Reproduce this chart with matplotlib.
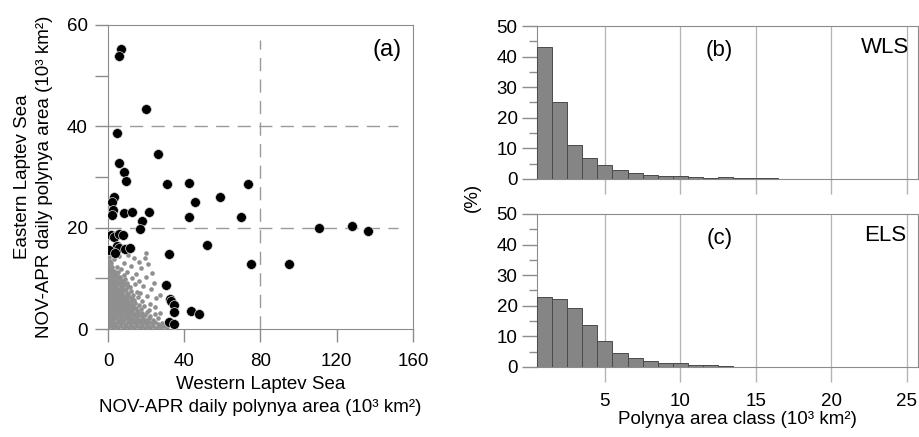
import numpy as np
import matplotlib
matplotlib.use("Agg")
import matplotlib.pyplot as plt
from matplotlib.ticker import MultipleLocator

plt.rcParams["font.family"] = ["Liberation Sans", "DejaVu Sans"]

# daily polynya area pairs (WLS, ELS), 10^3 km^2 -- large events
big_x = [6.8, 5.6, 20.1, 4.7, 26.2, 5.6, 8.6, 9.6, 30.9, 42.4, 73.6, 45.9, 58.6,
         3.0, 2.1, 2.4, 2.1, 8.6, 12.4, 21.6, 42.4, 70.0, 17.8, 16.8, 110.5,
         128.1, 136.3, 1.7, 3.0, 5.6, 7.7, 4.5, 5.9, 9.1, 11.5, 0.3, 3.5, 52.0,
         32.1, 75.2, 94.9, 30.5, 32.6, 33.1, 34.6, 34.6, 43.6, 47.8, 31.8, 34.6]
big_y = [55.2, 53.9, 43.4, 38.6, 34.6, 32.7, 31.0, 29.2, 28.6, 28.9, 28.6, 25.1,
         26.0, 26.1, 25.0, 23.5, 22.5, 22.8, 23.1, 23.0, 22.2, 22.1, 21.4, 19.8,
         20.0, 20.4, 19.4, 18.5, 18.1, 18.7, 18.5, 16.3, 16.0, 15.8, 15.9, 15.5,
         15.1, 16.5, 14.9, 12.9, 12.8, 8.7, 6.0, 5.5, 4.7, 3.4, 3.5, 3.0, 1.3, 1.0]

# remaining days (small polynya areas)
small_pts = [
    (0.2, 0.3), (1.4, 0.5), (2.7, 0.2), (4.1, 0.6), (5.5, 0.3), (6.8, 0.5), (8.2, 0.2),
    (9.6, 0.6), (11.0, 0.3), (12.4, 0.5), (13.8, 0.2), (15.2, 0.6), (16.6, 0.3),
    (18.0, 0.5), (19.4, 0.2), (20.8, 0.6), (22.2, 0.3), (23.6, 0.5), (25.0, 0.2),
    (26.5, 0.6), (28.0, 0.3), (29.6, 0.5), (31.2, 0.4),
    (0.6, 1.1), (2.0, 1.3), (3.4, 1.0), (4.8, 1.4), (6.1, 1.1), (7.5, 1.3), (8.9, 1.0),
    (10.3, 1.4), (11.7, 1.1), (13.1, 1.3), (14.5, 1.0), (15.9, 1.4), (17.3, 1.1),
    (18.7, 1.3), (20.1, 1.0), (21.5, 1.4), (23.0, 1.1), (24.6, 1.3), (26.3, 1.0),
    (28.4, 1.2),
    (0.1, 1.8), (1.4, 2.0), (2.8, 1.7), (4.2, 2.1), (5.6, 1.8), (7.0, 2.0), (8.4, 1.7),
    (9.8, 2.1), (11.2, 1.8), (12.6, 2.0), (14.0, 1.7), (15.4, 2.1), (16.8, 1.8),
    (18.2, 2.0), (19.8, 1.7), (21.6, 2.1), (23.5, 1.8), (26.0, 2.2),
    (0.5, 2.5), (1.9, 2.7), (3.3, 2.4), (4.7, 2.8), (6.1, 2.5), (7.5, 2.7), (8.9, 2.4),
    (10.3, 2.8), (11.7, 2.5), (13.1, 2.7), (14.5, 2.4), (16.0, 2.8), (17.6, 2.5),
    (19.5, 2.7), (22.0, 2.6), (24.8, 2.9),
    (0.1, 3.1), (1.4, 3.3), (2.8, 3.0), (4.2, 3.4), (5.6, 3.1), (7.0, 3.3), (8.4, 3.0),
    (9.8, 3.4), (11.2, 3.1), (12.6, 3.3), (14.1, 3.0), (15.8, 3.4), (17.8, 3.1),
    (20.3, 3.3), (27.5, 3.2),
    (0.6, 3.7), (2.0, 3.9), (3.4, 3.6), (4.8, 4.0), (6.2, 3.7), (7.6, 3.9), (9.0, 3.6),
    (10.4, 4.0), (11.8, 3.7), (13.3, 3.9), (15.0, 3.6), (17.2, 4.0), (21.5, 3.8),
    (0.1, 4.3), (1.5, 4.5), (2.9, 4.2), (4.3, 4.6), (5.7, 4.3), (7.1, 4.5), (8.5, 4.2),
    (9.9, 4.6), (11.4, 4.3), (13.0, 4.5), (14.8, 4.2), (19.0, 4.6), (24.5, 4.4),
    (0.6, 4.9), (2.0, 5.1), (3.4, 4.8), (4.8, 5.2), (6.2, 4.9), (7.6, 5.1), (9.0, 4.8),
    (10.5, 5.2), (12.1, 4.9), (14.0, 5.1), (16.5, 4.8), (22.0, 5.0),
    (0.1, 5.5), (1.5, 5.7), (2.9, 5.4), (4.3, 5.8), (5.7, 5.5), (7.1, 5.7), (8.6, 5.4),
    (10.1, 5.8), (11.8, 5.5), (13.8, 5.7), (18.0, 5.6), (25.0, 6.2),
    (0.6, 6.1), (2.0, 6.3), (3.4, 6.0), (4.8, 6.4), (6.2, 6.1), (7.7, 6.3), (9.2, 6.0),
    (10.8, 6.4), (12.8, 6.1), (15.5, 6.3), (20.5, 6.5), (27.4, 6.8),
    (0.1, 6.7), (1.5, 6.9), (2.9, 6.6), (4.3, 7.0), (5.8, 6.7), (7.3, 6.9), (8.8, 6.6),
    (10.5, 7.0), (13.0, 6.8), (17.0, 7.1),
    (0.6, 7.3), (2.0, 7.5), (3.4, 7.2), (4.9, 7.6), (6.4, 7.3), (8.0, 7.5), (9.8, 7.2),
    (12.0, 7.6), (15.0, 7.4), (22.5, 7.8),
    (0.1, 7.9), (1.5, 8.1), (2.9, 7.8), (4.4, 8.2), (5.9, 7.9), (7.5, 8.1), (9.3, 7.8),
    (11.5, 8.2), (18.5, 8.4),
    (0.6, 8.5), (2.0, 8.7), (3.5, 8.4), (5.0, 8.8), (6.6, 8.5), (8.4, 8.7), (10.6, 8.4),
    (14.0, 8.9), (24.0, 9.0),
    (0.1, 9.1), (1.5, 9.3), (3.0, 9.0), (4.5, 9.4), (6.1, 9.1), (7.8, 9.3), (10.0, 9.0),
    (16.0, 9.5),
    (0.6, 9.7), (2.1, 9.9), (3.6, 9.6), (5.2, 10.0), (7.0, 9.7), (9.0, 9.9), (12.5, 10.1),
    (20.0, 10.3),
    (0.1, 10.3), (1.6, 10.5), (3.1, 10.2), (4.7, 10.6), (6.5, 10.3), (8.5, 10.7),
    (14.5, 10.9),
    (0.6, 10.9), (2.1, 11.1), (3.7, 10.8), (5.5, 11.2), (10.0, 11.3), (23.0, 11.0),
    (0.1, 11.5), (1.6, 11.7), (3.2, 11.4), (6.8, 11.9), (17.5, 12.0),
    (0.7, 12.1), (2.3, 12.3), (4.5, 12.2), (12.0, 12.5),
    (0.2, 12.7), (1.5, 13.0), (8.5, 13.0), (21.0, 12.8),
    (0.8, 13.5), (3.0, 13.8), (13.4, 14.0), (0.4, 14.3), (19.5, 14.0), (6.0, 14.5),
    (19.9, 15.0), (1.5, 15.0), (10.5, 14.6), (16.5, 13.2),
]

# frequency distributions (%) per 1000 km^2 area class
wls_class = np.arange(1, 17)
wls_pct = [43.3, 25.1, 11.1, 6.8, 4.7, 2.8, 1.8, 1.3, 1.0, 1.0, 0.65, 0.4, 0.5,
           0.3, 0.3, 0.3]
els_class = np.arange(1, 14)
els_pct = [22.8, 22.2, 19.3, 13.7, 8.4, 4.6, 2.9, 2.0, 1.3, 1.2, 0.8, 0.65, 0.45]

ref_x = 80
ref_y = [20, 40]

fs = 13.5
spine_col = "#8c8c8c"
fig = plt.figure(figsize=(9.2, 4.37), dpi=100)

# ---- (a) scatter ----
ax = fig.add_axes([0.1174, 0.2471, 0.3315, 0.6957])
sx, sy = zip(*small_pts)
ax.scatter(sx, sy, s=11, color="#8f8f8f", linewidths=0, zorder=2)
ax.scatter(big_x, big_y, s=50, color="black", edgecolors="#d8d8d8",
           linewidths=0.5, zorder=3)
for yv in ref_y:
    ax.plot([0, 152], [yv, yv], color="#9a9a9a", lw=1, dashes=(9.5, 6), zorder=1)
ax.plot([ref_x, ref_x], [0, 57], color="#9a9a9a", lw=1, dashes=(9.5, 6), zorder=1)
ax.set_xlim(0, 160)
ax.set_ylim(0, 60)
ax.set_xticks([0, 40, 80, 120, 160])
ax.yaxis.set_major_locator(MultipleLocator(20))
ax.yaxis.set_minor_locator(MultipleLocator(10))
ax.tick_params(which="both", direction="out", length=9.5, width=1,
               color=spine_col, labelsize=fs, pad=5)
ax.tick_params(axis="x", pad=8)
for s in ax.spines.values():
    s.set_color(spine_col)
ax.set_xlabel("Western Laptev Sea\nNOV-APR daily polynya area (10³ km²)",
              fontsize=fs, linespacing=1.45, labelpad=4)
ax.set_ylabel("Eastern Laptev Sea\nNOV-APR daily polynya area (10³ km²)",
              fontsize=fs, linespacing=1.4, labelpad=10)
ax.text(146.5, 55, "(a)", fontsize=17, ha="center", va="center")


# ---- (b), (c) histograms ----
def hist_panel(rect, cls, pct, tag, name, show_x):
    h = fig.add_axes(rect)
    h.bar(cls, pct, width=1.0, color="#858585", edgecolor="#4a4a4a",
          linewidth=0.7, zorder=3)
    h.set_xlim(0.5, 25.75)
    h.set_ylim(0, 50)
    h.set_xticks([5, 10, 15, 20, 25])
    h.yaxis.set_major_locator(MultipleLocator(10))
    h.yaxis.set_minor_locator(MultipleLocator(5))
    h.grid(axis="x", color="#b4b4b4", lw=0.9, zorder=0)
    h.tick_params(which="major", direction="out", length=11, width=1,
                  color=spine_col, labelsize=fs, pad=3)
    h.tick_params(which="minor", direction="out", length=6, width=1,
                  color=spine_col)
    h.tick_params(axis="x", which="major", color="#b4b4b4", pad=8)
    if not show_x:
        h.tick_params(axis="x", labelbottom=False)
    for s in h.spines.values():
        s.set_color(spine_col)
    h.text(12.6, 42, tag, fontsize=16, ha="center", va="center")
    h.text(23.6, 43, name, fontsize=16, ha="center", va="center")
    return h


hb = hist_panel([0.5837, 0.5904, 0.414, 0.3501], wls_class, wls_pct, "(b)", "WLS", False)
hc = hist_panel([0.5837, 0.1602, 0.414, 0.3501], els_class, els_pct, "(c)", "ELS", True)
hc.set_xlabel("Polynya area class (10³ km²)", fontsize=fs)
hc.xaxis.set_label_coords(0.525, -0.29)
fig.text(472 / 920, 1 - 197 / 437, "(%)", rotation=90, fontsize=fs,
         ha="center", va="center")

fig.savefig("out.png", dpi=100)
